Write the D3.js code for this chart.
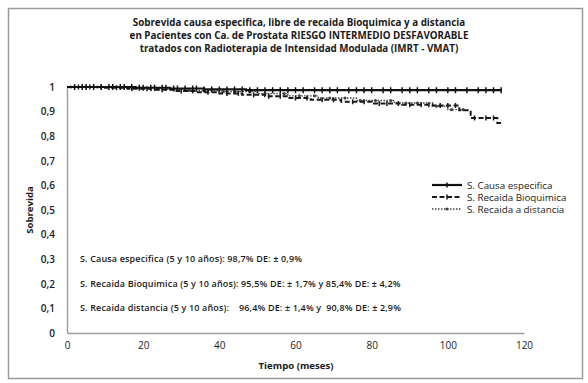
<!DOCTYPE html>
<html>
<head>
<meta charset="utf-8">
<script src="https://cdn.jsdelivr.net/npm/d3@7"></script>
<style>
  body { margin: 0; background: #fff; }
  text { font-family: "Open Sans", "Noto Sans", sans-serif; fill: #1a1a1a; }
</style>
</head>
<body>
<div id="body"></div>
<script>
// Kaplan-Meier step data
var causaT = [0, 18, 27, 36, 47, 114];
var causaS = [1, 0.997, 0.994, 0.990, 0.987, 0.987];
var causaCens = [2, 4, 5, 7, 9, 11, 12, 14, 15, 17, 19, 20, 22, 23, 25, 26, 28, 29, 31, 33, 34, 36, 38, 40, 42, 44, 46, 48, 50, 52, 54, 56, 58, 60, 62, 65, 67, 69, 71, 74, 76, 78, 80, 83, 85, 88, 90, 92, 95, 97, 100, 102, 105, 108, 110, 112, 114];

var bioT = [0, 10, 16, 22, 28, 34, 40, 46, 52, 58, 64, 72, 80, 88, 96, 103, 106, 113, 114];
var bioS = [1, 0.997, 0.993, 0.989, 0.984, 0.979, 0.974, 0.968, 0.962, 0.955, 0.948, 0.940, 0.933, 0.928, 0.925, 0.905, 0.874, 0.854, 0.854];
var bioCens = [3, 6, 9, 13, 17, 21, 25, 30, 33, 37, 42, 45, 49, 53, 56, 60, 63, 67, 70, 75, 78, 82, 84, 87, 90, 93, 95, 98, 100, 102, 107, 110, 112];

var distT = [0, 14, 24, 32, 40, 50, 58, 66, 76, 86, 96, 100, 104];
var distS = [1, 0.996, 0.991, 0.986, 0.981, 0.973, 0.964, 0.955, 0.945, 0.935, 0.922, 0.908, 0.908];
var distCens = [1, 5, 8, 12, 16, 20, 24, 28, 32, 36, 41, 44, 48, 52, 57, 61, 65, 69, 73, 77, 81, 85, 89, 92, 97, 101, 104];

var xTicks = [0, 20, 40, 60, 80, 100, 120];
var yTicks = [0, 0.1, 0.2, 0.3, 0.4, 0.5, 0.6, 0.7, 0.8, 0.9, 1];

var titleLines = [
  "Sobrevida causa especifica, libre de recaida Bioquimica y a distancia",
  "en Pacientes con Ca. de Prostata RIESGO INTERMEDIO DESFAVORABLE",
  "tratados con Radioterapia de Intensidad Modulada (IMRT - VMAT)"
];
var notes = [
  "S. Causa especifica (5 y 10 años): 98,7% DE: ± 0,9%",
  "S. Recaida Bioquimica (5 y 10 años): 95,5% DE: ± 1,7% y 85,4% DE: ± 4,2%",
  "S. Recaida distancia (5 y 10 años):    96,4% DE: ± 1,4% y  90,8% DE: ± 2,9%"
];
var legendNames = ["S. Causa especifica", "S. Recaida Bioquimica", "S. Recaida a distancia"];

var width = 588, height = 383;

var svg = d3.select('#body').append('svg')
  .attr('width', width)
  .attr('height', height);

// outer frame
svg.append('rect')
  .attr('x', 8.5).attr('y', 8.5)
  .attr('width', 574).attr('height', 370)
  .attr('fill', 'none')
  .attr('stroke', '#9a9a9a')
  .attr('stroke-width', 1.5);

var x = d3.scaleLinear().domain([0, 120]).range([67, 524]);
var y = d3.scaleLinear().domain([0, 1]).range([333, 87]);

// title
svg.selectAll('.title').data(titleLines).enter()
  .append('text')
  .attr('x', 299)
  .attr('y', function(d, i) { return 26 + i * 13; })
  .attr('text-anchor', 'middle')
  .style('font-size', '9.8px')
  .style('font-weight', 'bold')
  .text(function(d) { return d; });

// axes
var fmt = function(d) { return String(d).replace('.', ','); };
var yAxis = svg.append('g')
  .attr('transform', 'translate(67,0)')
  .call(d3.axisLeft(y).tickValues(yTicks).tickSize(0).tickPadding(12).tickFormat(fmt));
var xAxis = svg.append('g')
  .attr('transform', 'translate(0,333)')
  .call(d3.axisBottom(x).tickValues(xTicks).tickSize(0).tickPadding(9));
[xAxis, yAxis].forEach(function(a) {
  a.select('.domain').attr('stroke', '#a0a0a0').attr('stroke-width', 1.5);
  a.selectAll('text').style('font-size', '10px').style('font-family', '"Open Sans", sans-serif').attr('fill', '#1a1a1a');
});
yAxis.selectAll('text').style('font-weight', '600');

svg.append('text')
  .attr('x', 296).attr('y', 369)
  .attr('text-anchor', 'middle')
  .style('font-size', '9.6px').style('font-weight', 'bold')
  .text('Tiempo (meses)');
svg.append('text')
  .attr('transform', 'translate(33,210) rotate(-90)')
  .attr('text-anchor', 'middle')
  .style('font-size', '9.6px').style('font-weight', 'bold')
  .text('Sobrevida');

// survival at time t from step arrays
function survAt(T, S, t) {
  var v = S[0];
  for (var i = 0; i < T.length; i++) { if (T[i] <= t) v = S[i]; }
  return v;
}

var line = d3.line()
  .x(function(d) { return x(d[0]); })
  .y(function(d) { return y(d[1]); })
  .curve(d3.curveStepAfter);

var series = [
  { T: distT, S: distS, C: distCens, dash: '1.5,1.5', color: '#444', w: 1.4, mark: 'dot' },
  { T: bioT, S: bioS, C: bioCens, dash: '5,2.5', color: '#1a1a1a', w: 2, mark: 'tick' },
  { T: causaT, S: causaS, C: causaCens, dash: null, color: '#111', w: 2.2, mark: 'plus' }
];

series.forEach(function(s) {
  svg.append('path')
    .datum(d3.zip(s.T, s.S))
    .attr('d', line)
    .attr('fill', 'none')
    .attr('stroke', s.color)
    .attr('stroke-width', s.w)
    .attr('stroke-dasharray', s.dash);

  var g = svg.append('g');
  s.C.forEach(function(t) {
    var cx = x(t), cy = y(survAt(s.T, s.S, t));
    if (s.mark === 'dot') {
      g.append('circle').attr('cx', cx).attr('cy', cy).attr('r', 1.6).attr('fill', s.color);
    } else {
      var h = s.mark === 'plus' ? 3 : 2.5;
      g.append('line').attr('x1', cx).attr('x2', cx).attr('y1', cy - h).attr('y2', cy + h)
        .attr('stroke', s.color).attr('stroke-width', 1.5);
    }
  });
});

// notes inside plot
svg.selectAll('.note').data(notes).enter()
  .append('text')
  .attr('x', 80)
  .attr('y', function(d, i) { return y(0.3 - i * 0.1) + 3; })
  .style('font-size', '9px')
  .style('font-weight', '600')
  .style('letter-spacing', '0.15px')
  .style('white-space', 'pre')
  .attr('xml:space', 'preserve')
  .text(function(d) { return d; });

// legend
var legSeries = [series[2], series[1], series[0]];
var leg = svg.selectAll('.leg').data(legendNames).enter()
  .append('g')
  .attr('transform', function(d, i) { return 'translate(432,' + (185 + i * 12) + ')'; });
leg.append('line')
  .attr('x1', 0).attr('x2', 30).attr('y1', 0).attr('y2', 0)
  .attr('stroke', function(d, i) { return legSeries[i].color; })
  .attr('stroke-width', function(d, i) { return legSeries[i].w; })
  .attr('stroke-dasharray', function(d, i) { return legSeries[i].dash; });
leg.each(function(d, i) {
  var s = legSeries[i], g = d3.select(this);
  if (s.mark === 'dot') g.append('circle').attr('cx', 15).attr('cy', 0).attr('r', 1.6).attr('fill', s.color);
  else g.append('line').attr('x1', 15).attr('x2', 15).attr('y1', -2.5).attr('y2', 2.5).attr('stroke', s.color).attr('stroke-width', 1.5);
});
leg.append('text')
  .attr('x', 35).attr('y', 3.5)
  .style('font-size', '9.8px')
  .text(function(d) { return d; });
</script>
</body>
</html>
